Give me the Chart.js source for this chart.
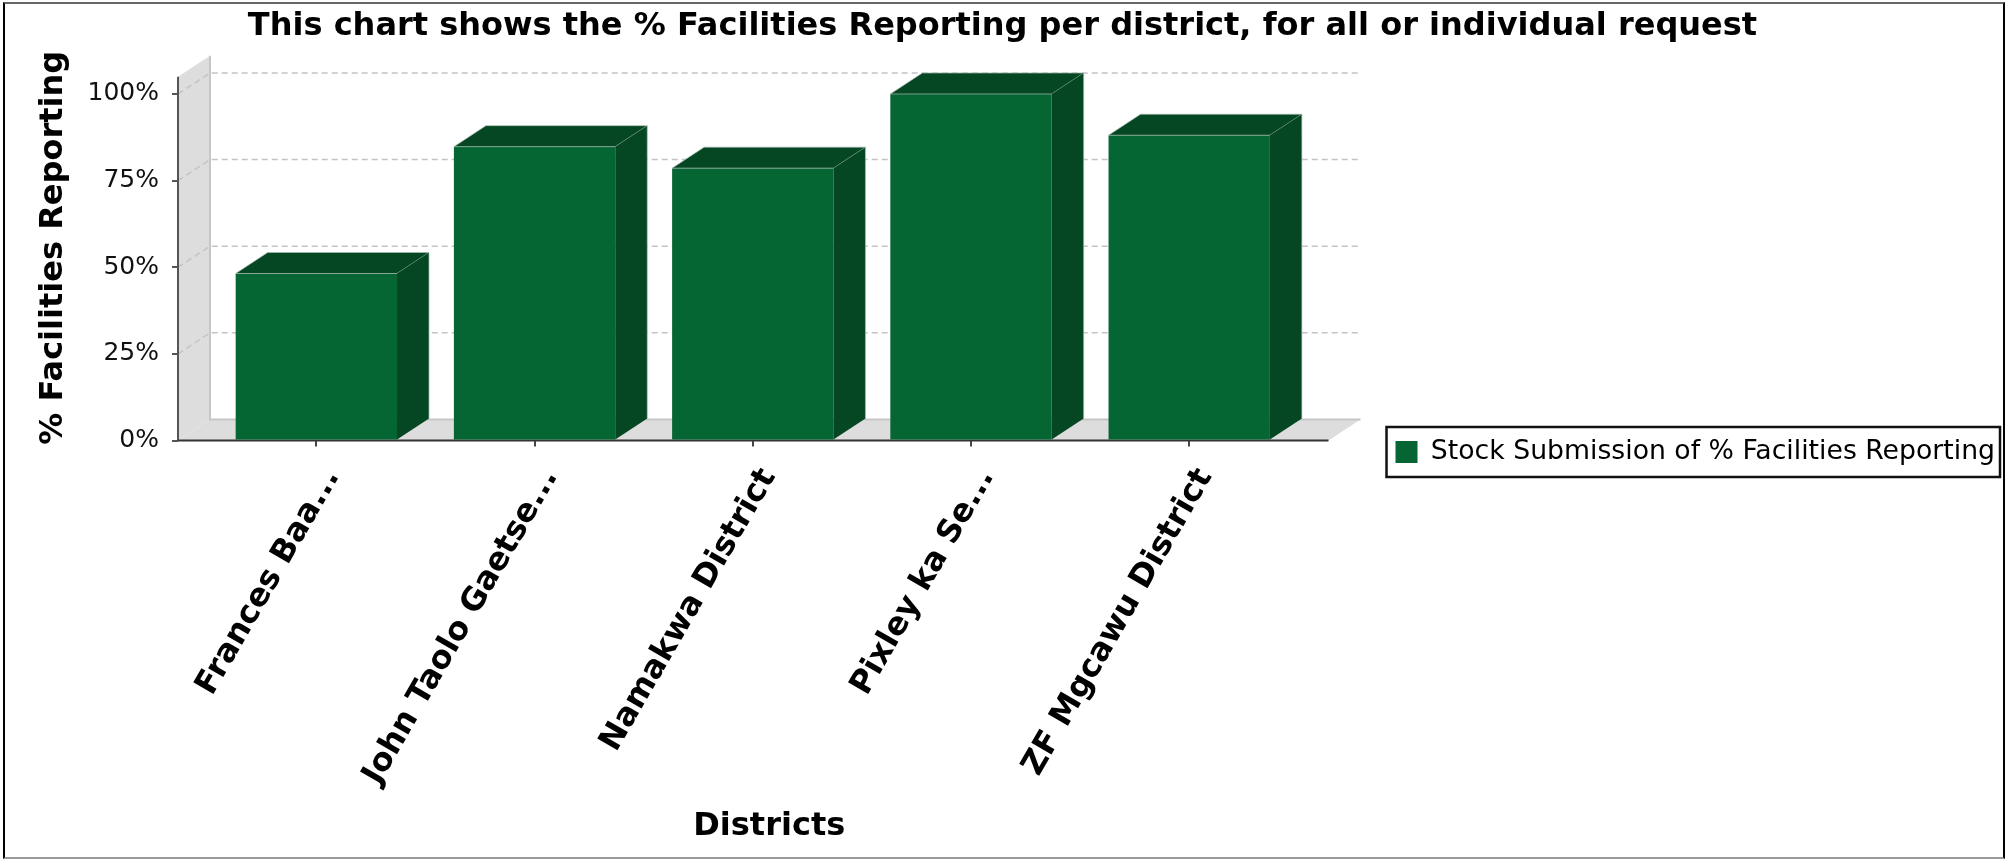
<!DOCTYPE html>
<html>
<head>
<meta charset="utf-8">
<script src="https://cdn.jsdelivr.net/npm/chart.js@4.4.1/dist/chart.umd.min.js"></script>
<style>
html, body { margin: 0; padding: 0; background: #fff; }
#wrap { position: relative; width: 2005px; height: 859px; overflow: hidden; }
#frame { position: absolute; left: 3px; top: 2px; right: 0; bottom: 0; border-left: 2px solid #000; border-right: 2px solid #000; border-top: 2px solid #666; border-bottom: 2px solid #999; pointer-events: none; }
</style>
</head>
<body>
<div id="wrap">
  <canvas id="myChart" width="2005" height="859"></canvas>
  <div id="frame"></div>
</div>
<script>
const districts = ['Frances Baa...', 'John Taolo Gaetse...', 'Namakwa District', 'Pixley ka Se...', 'ZF Mgcawu District'];
const reportingPct = [48.2, 84.8, 78.6, 100, 88.1];
const yTickValues = [0, 25, 50, 75, 100];
const seriesLabel = 'Stock Submission of % Facilities Reporting';

// 3d depth of walls and bars
const DX = 32, DY = 21;
const FRONT = '#066633', DARK = '#044722', WALL = '#dddddd';

Chart.defaults.font.family = '"DejaVu Sans", sans-serif';

const box3d = {
    id: 'box3d',
    beforeDraw(chart) {
        const { ctx, chartArea: a, scales: { x, y } } = chart;
        const L = a.left, R = a.right - DX;
        const y0 = y.getPixelForValue(0), yt = y.getPixelForValue(105);
        ctx.save();
        ctx.fillStyle = WALL;
        ctx.beginPath();
        ctx.moveTo(L, yt); ctx.lineTo(L + DX, yt - DY); ctx.lineTo(L + DX, y0 - DY); ctx.lineTo(L, y0);
        ctx.closePath(); ctx.fill();
        ctx.beginPath();
        ctx.moveTo(L, y0); ctx.lineTo(L + DX, y0 - DY); ctx.lineTo(R + DX, y0 - DY); ctx.lineTo(R, y0);
        ctx.closePath(); ctx.fill();
        ctx.strokeStyle = '#c6c6c6'; ctx.lineWidth = 2;
        ctx.beginPath();
        ctx.moveTo(L + DX, yt - DY); ctx.lineTo(L + DX, y0 - DY); ctx.lineTo(R + DX, y0 - DY);
        ctx.stroke();
        // dashed grid on the walls
        ctx.setLineDash([6, 4]); ctx.strokeStyle = '#c4c4c4'; ctx.lineWidth = 1.5;
        yTickValues.forEach(v => {
            if (!v) return;
            const p = y.getPixelForValue(v);
            ctx.beginPath();
            ctx.moveTo(L, p); ctx.lineTo(L + DX, p - DY); ctx.lineTo(R + DX, p - DY);
            ctx.stroke();
        });
        ctx.setLineDash([]);
        ctx.lineWidth = 2;
        ctx.strokeStyle = '#555';
        ctx.beginPath(); ctx.moveTo(L, yt); ctx.lineTo(L, y0); ctx.stroke();
        ctx.strokeStyle = '#333';
        ctx.beginPath(); ctx.moveTo(L, y0); ctx.lineTo(R, y0); ctx.stroke();
        ctx.restore();
    },
    afterDatasetsDraw(chart) {
        const { ctx } = chart;
        ctx.save();
        ctx.fillStyle = DARK;
        ctx.strokeStyle = 'rgba(170,190,180,0.7)';
        ctx.lineWidth = 1;
        chart.getDatasetMeta(0).data.forEach(bar => {
            const l = bar.x - bar.width / 2, r = bar.x + bar.width / 2, t = bar.y, b = bar.base;
            ctx.beginPath();
            ctx.moveTo(l, t); ctx.lineTo(l + DX, t - DY); ctx.lineTo(r + DX, t - DY); ctx.lineTo(r, t);
            ctx.closePath(); ctx.fill(); ctx.stroke();
            ctx.beginPath();
            ctx.moveTo(r, t); ctx.lineTo(r + DX, t - DY); ctx.lineTo(r + DX, b - DY); ctx.lineTo(r, b);
            ctx.closePath(); ctx.fill();
            ctx.beginPath(); ctx.moveTo(r + DX, t - DY); ctx.lineTo(r + DX, b - DY); ctx.stroke();
        });
        ctx.restore();
    },
    afterDraw(chart) {
        const hb = chart.legend.legendHitBoxes[0];
        if (!hb) return;
        const { ctx } = chart;
        ctx.save();
        ctx.strokeStyle = '#111';
        ctx.lineWidth = 2.5;
        ctx.strokeRect(hb.left - 9, hb.top + hb.height / 2 - 25, hb.width + 14, 50);
        ctx.restore();
    }
};

const ctx = document.getElementById('myChart').getContext('2d');
const myChart = new Chart(ctx, {
    type: 'bar',
    data: {
        datasets: [{
            label: seriesLabel,
            data: reportingPct.map((v, i) => ({ x: i, y: v })),
            backgroundColor: FRONT,
            borderWidth: 0,
            categoryPercentage: 1,
            barPercentage: 0.7394
        }]
    },
    options: {
        responsive: false,
        devicePixelRatio: 1,
        animation: false,
        layout: { padding: 0 },
        plugins: {
            tooltip: { enabled: false },
            title: {
                display: true,
                text: 'This chart shows the % Facilities Reporting per district, for all or individual request',
                font: { size: 32, weight: 'bold' },
                color: '#000',
                padding: { top: 7, bottom: 9.6 }
            },
            legend: {
                position: 'right',
                align: 'center',
                maxWidth: 800,
                title: { display: true, text: ' ', font: { size: 10 }, padding: { top: 0, bottom: 33 } },
                labels: { boxWidth: 22, boxHeight: 22, padding: 35, font: { size: 26.7 }, color: '#000' }
            }
        },
        scales: {
            x: {
                type: 'linear',
                min: -0.634,
                max: 4.785,
                bounds: 'data',
                offset: false,
                afterBuildTicks: s => { s.ticks = districts.map((d, i) => ({ value: i })); },
                afterFit: s => { s.height = 859 - 440.5; },
                ticks: {
                    autoSkip: false,
                    minRotation: 60,
                    maxRotation: 60,
                    padding: 15.5,
                    labelOffset: 16,
                    font: { size: 32, weight: 'bold' },
                    color: '#000',
                    callback: v => districts[v]
                },
                grid: { offset: false, drawOnChartArea: false, tickLength: 6, color: '#444', lineWidth: 2 },
                border: { display: false },
                title: {
                    display: true,
                    text: 'Districts',
                    font: { size: 32, weight: 'bold' },
                    color: '#000',
                    padding: { top: 0, bottom: 13 }
                }
            },
            y: {
                min: 0,
                max: 111.25,
                bounds: 'data',
                afterBuildTicks: s => { s.ticks = yTickValues.map(v => ({ value: v })); },
                afterFit: s => { s.width = 178; },
                ticks: { callback: v => v + '%', font: { size: 25 }, color: '#111', padding: 13 },
                grid: { drawOnChartArea: false, tickLength: 6, color: '#555', lineWidth: 2 },
                border: { display: false },
                title: {
                    display: true,
                    text: '% Facilities Reporting',
                    font: { size: 32, weight: 'bold' },
                    color: '#000',
                    padding: { top: 34, bottom: 0 }
                }
            }
        }
    },
    plugins: [box3d]
});
</script>
</body>
</html>
